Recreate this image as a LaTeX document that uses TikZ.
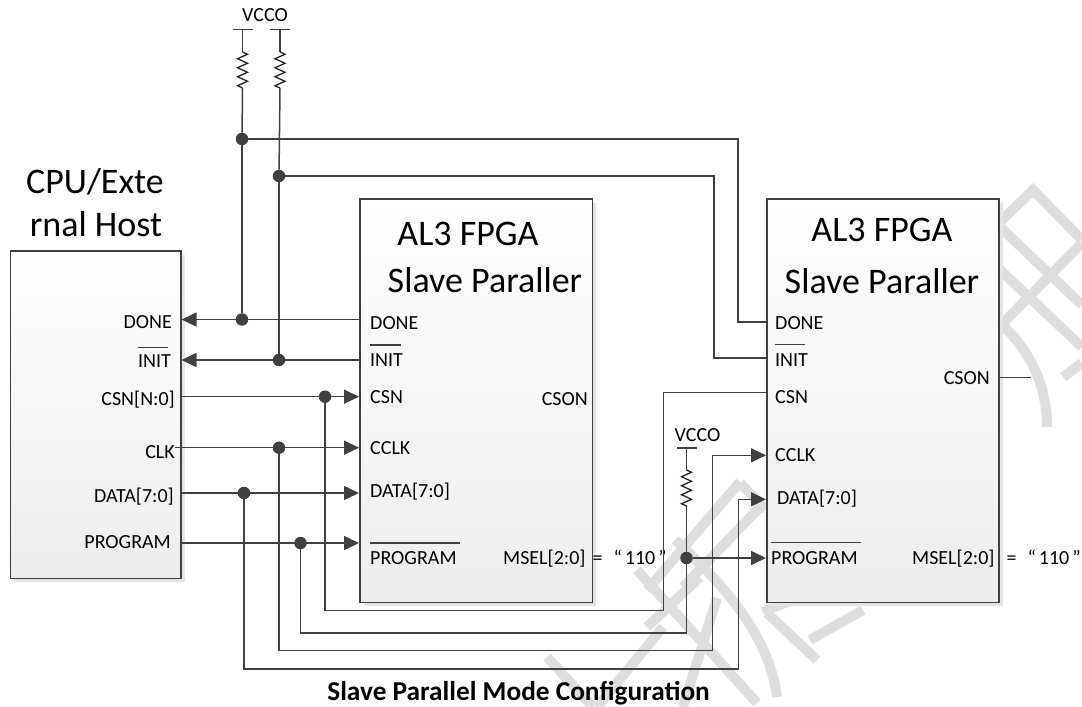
\documentclass[tikz,border=0pt]{standalone}
\usepackage{fontspec}
\setmainfont{Carlito}
\usetikzlibrary{arrows.meta,decorations.pathmorphing,calc,shadows}
\definecolor{ink}{HTML}{404040}
\definecolor{wm}{HTML}{DEDEDE}
\newcommand{\mselA}{MSEL[2:0]\kern7pt=\kern11pt“\kern3pt 110\kern3pt”}
\newcommand{\mselB}{MSEL[2:0]\kern12pt=\kern11pt“\kern3pt 110\kern3pt”}
\tikzset{
  x=1pt,y=-1pt,
  block/.style={draw=ink,line width=1.5pt,top color=white,bottom color=black!7,inner sep=0pt,anchor=north west,
    drop shadow={shadow xshift=4pt,shadow yshift=-4pt,fill=black!10,opacity=1}},
  wire/.style={draw=ink,line width=1.5pt},
  arrowwire/.style={wire,-{Triangle[length=15pt,width=14pt]}},
  junction/.style={circle,fill=ink,inner sep=0pt,minimum size=12.5pt},
  portlabel/.style={font=\fontsize{20}{20}\selectfont,text=black,inner sep=0pt},
  portL/.style={portlabel,anchor=base west},
  portR/.style={portlabel,anchor=base east},
  blocktitle/.style={font=\fontsize{36}{40}\selectfont,text=black,inner sep=0pt},
  barline/.style={wire},
  zig/.style={draw=black!85,line width=1.3pt,line join=miter,decorate,decoration={zigzag,segment length=9pt,amplitude=5pt}},
  wmark/.style={draw=wm,line width=10pt,line cap=butt},
}
\begin{document}
\begin{tikzpicture}
\useasboundingbox (0,0) rectangle (1082,707);
% watermark
\draw[wmark] (1000,222) -- (1033,190) -- (1082,240);
\draw[wmark] (998,225) -- (1082,305);
\draw[wmark] (1082,243) -- (1003,323);
\draw[wmark] (998,268) -- (1082,347);
\draw[wmark] (1063,377) -- (1082,363);
\draw[wmark] (1000,323) .. controls (1030,350) and (1047,385) .. (1047,427);
\draw[wmark] (740,482) -- (647,590);
\draw[wmark] (760,507) -- (683,587);
\draw[wmark] (740,483) -- (766,510);
\draw[wmark] (637,570) -- (757,703);
\draw[wmark] (675,540) .. controls (730,590) and (770,640) .. (777,697);
\draw[wmark] (717,598) -- (683,707);
\draw[wmark] (767,613) -- (817,660);
\draw[wmark] (763,612) -- (787,602);
\draw[wmark] (863,610) -- (810,640);
\draw[wmark] (700,577) -- (647,627);
\draw[wmark] (663,627) -- (597,707);
\draw[wmark] (547,657) -- (593,707);
% blocks
\node[block,minimum width=170.5pt,minimum height=327.5pt] (host) at (9.5,250) {};
\node[block,minimum width=232.5pt,minimum height=403.5pt] (fpgaA) at (359,198) {};
\node[block,minimum width=232pt,minimum height=403.5pt] (fpgaB) at (766,198) {};
% titles
\node[blocktitle] (hostT) at (95,182) {CPU/Exte};
\node[blocktitle] (hostU) at (96,224) {rnal Host};
\node[blocktitle] (titleA) at (468,234) {AL3 FPGA};
\node[blocktitle] (titleA2) at (485,280) {Slave Paraller};
\node[blocktitle] (titleB) at (882,230) {AL3 FPGA};
\node[blocktitle] (titleB2) at (882,281) {Slave Paraller};
% host labels
\node[portR] (hDone) at (172,328.5) {DONE};
\node[portR] (hInit) at (171,367.5) {INIT};
\node[portR] (hCsn) at (175,405) {CSN[N:0]};
\node[portR] (hClk) at (175,458) {CLK};
\node[portR] (hData) at (174,502) {DATA[7:0]};
\node[portR] (hProg) at (171,548) {PROGRAM};
\draw[barline] (138,347.3) -- (168,347.3);
% fpga A labels
\node[portL] (aDone) at (370,329) {DONE};
\node[portL] (aInit) at (370,366.5) {INIT};
\node[portL] (aCsn) at (370,403) {CSN};
\node[portL] (aClk) at (370,454.5) {CCLK};
\node[portL] (aData) at (370,497.5) {DATA[7:0]};
\node[portL] (aProg) at (370,564.5) {PROGRAM};
\node[portR] (aCson) at (588,405.5) {CSON};
\node[portL] (aMsel) at (503,564.5) {\mselA};
\draw[barline] (370,345) -- (401,345);
\draw[barline] (370,543) -- (460,543);
% fpga B labels
\node[portL] (bDone) at (775,329) {DONE};
\node[portL] (bInit) at (775,366) {INIT};
\node[portL] (bCsn) at (775,403) {CSN};
\node[portL] (bClk) at (775,461.5) {CCLK};
\node[portL] (bData) at (777,504.5) {DATA[7:0]};
\node[portL] (bProg) at (771,564) {PROGRAM};
\node[portR] (bCson) at (990,384) {CSON};
\node[portL] (bMsel) at (912,564) {\mselB};
\draw[barline] (775,344.7) -- (805,344.7);
\draw[barline] (771,542.7) -- (861,542.7);
% vcc
\node[portlabel] (vccTop) at (265,15) {VCCO};
\node[portlabel] (vccMid) at (697.5,435) {VCCO};
\coordinate (capL) at (242.5,29.5);
\coordinate (capR) at (280,29.5);
\coordinate (capM) at (686.5,448);
\draw[barline] ($(capL)+(-10,0)$) -- ($(capL)+(10,0)$);
\draw[barline] ($(capR)+(-10,0)$) -- ($(capR)+(10,0)$);
\draw[barline] ($(capM)+(-10,0)$) -- ($(capM)+(10,0)$);
% junctions
\node[junction] (j1) at (242,139) {};
\node[junction] (j2) at (279,176) {};
\node[junction] (j3) at (242,319.5) {};
\node[junction] (j4) at (279,360) {};
\node[junction] (j5) at (325,396.7) {};
\node[junction] (j6) at (279,447.7) {};
\node[junction] (j7) at (244,493) {};
\node[junction] (j8) at (300.5,543) {};
\node[junction] (j9) at (686.5,558) {};
% resistors
\foreach \c/\a/\b/\e in {capL/52/88/j1,capR/52/88/j2}{
  \draw[wire] (\c) -- (\c |- 0,\a);
  \draw[zig] (\c |- 0,\a) -- (\c |- 0,\b);
  \draw[wire] (\c |- 0,\b) -- (\e);
}
\draw[wire] (capM) -- (capM |- 0,470);
\draw[zig] (capM |- 0,470) -- (capM |- 0,507);
\draw[wire] (capM |- 0,507) -- (j9);
% verticals
\draw[wire] (j1) -- (j3);
\draw[wire] (j2) -- (j4);
\draw[wire] (j1) -| (738,322) -- (fpgaB.west |- 0,322);
\draw[wire] (j2) -| (714,358) -- (fpgaB.west |- 0,358);
% row wires
\draw[arrowwire] (fpgaA.west |- j3) -- (host.east |- j3);
\draw[arrowwire] (fpgaA.west |- j4) -- (host.east |- j4);
\draw[arrowwire] (host.east |- j5) -- (fpgaA.west |- j5);
\draw[arrowwire] (hClk.east |- j6) -- (fpgaA.west |- j6);
\draw[arrowwire] (host.east |- j7) -- (fpgaA.west |- j7);
\draw[arrowwire] (host.east |- j8) -- (fpgaA.west |- j8);
% bus returns
\draw[wire] (fpgaB.west |- 0,392.7) -| (663.7,610.7) -| (j5);
\draw[wire] (j8) |- (686.5,633) -- (j9);
\draw[arrowwire] (j6) |- (712.7,650.7) |- (fpgaB.west |- 0,455.3);
\draw[arrowwire] (j7) |- (738.7,669) |- (fpgaB.west |- 0,499.3);
\draw[arrowwire] (j9) -- (fpgaB.west |- j9);
\coordinate (csonEnd) at (1031,377.7);
\draw[wire] (fpgaB.east |- csonEnd) -- (csonEnd);
% caption
\node[font=\bfseries\fontsize{27.3}{28}\selectfont,inner sep=0pt,anchor=base east] (caption) at (710,700) {Slave Parallel Mode Configuration};
\end{tikzpicture}
\end{document}
